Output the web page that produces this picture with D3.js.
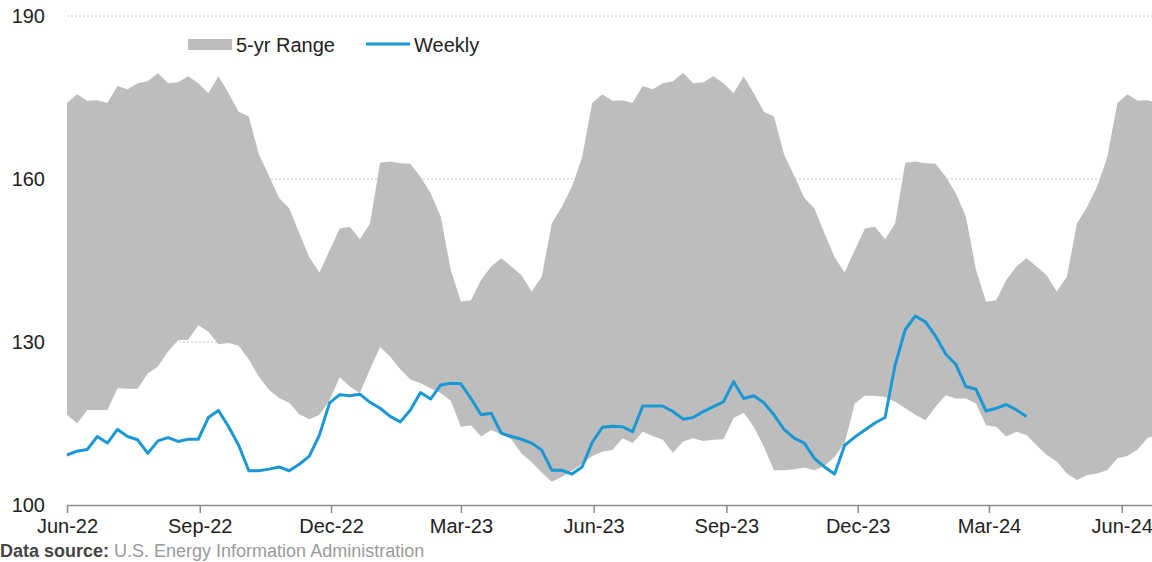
<!DOCTYPE html>
<html>
<head>
<meta charset="utf-8">
<script src="https://cdn.jsdelivr.net/npm/d3@7"></script>
<style>
  body { margin: 0; background: #fff; }
  svg { display: block; font-family: "Liberation Sans", Arial, sans-serif; }
</style>
</head>
<body>
<svg id="chart" width="1152" height="562"></svg>
<script>
// first week in the file (week ending Fri Jun 3 2022), one value per week after that
var startDate = "2022-06-03";

// 5-yr range, upper edge (million barrels)
var rangeHigh = [
  174.0, 175.6, 174.4, 174.5, 174.0, 177.1, 176.5, 177.6, 178.0, 179.5,
  177.6, 177.8, 178.9, 177.6, 175.8, 178.9, 175.8, 172.4, 171.5, 164.5,
  160.6, 156.5, 154.6, 150.0, 145.6, 142.8, 146.9, 150.9, 151.2, 148.9,
  151.8, 163.0, 163.2, 162.9, 162.8, 160.4, 157.4, 153.1, 143.3, 137.4,
  137.7, 141.4, 143.9, 145.4, 143.9, 142.3, 139.3, 142.0, 151.8, 154.9,
  158.6, 164.0,
  174.0, 175.6, 174.4, 174.5, 174.0, 177.1, 176.5, 177.6, 178.0, 179.5,
  177.6, 177.8, 178.9, 177.6, 175.8, 178.9, 175.8, 172.4, 171.5, 164.5,
  160.6, 156.5, 154.6, 150.0, 145.6, 142.8, 146.9, 150.9, 151.2, 148.9,
  151.8, 163.0, 163.2, 162.9, 162.8, 160.4, 157.4, 153.1, 143.3, 137.4,
  137.7, 141.4, 143.9, 145.4, 143.9, 142.3, 139.3, 142.0, 151.8, 154.9,
  158.6, 164.0,
  174.0, 175.6, 174.4, 174.5, 174.0
];

// 5-yr range, lower edge
var rangeLow = [
  116.6, 115.0, 117.5, 117.5, 117.5, 121.5, 121.4, 121.4, 124.2, 125.5,
  128.2, 130.3, 130.4, 133.1, 131.9, 129.6, 129.8, 129.3, 126.8, 123.6,
  121.2, 119.7, 118.8, 116.7, 115.8, 116.6, 119.3, 123.5, 121.8, 120.6,
  125.0, 129.1, 127.3, 125.0, 123.1, 122.4, 121.5, 120.6, 119.2, 114.4,
  114.7, 112.6, 113.8, 113.0, 112.1, 109.5, 107.9, 106.0, 104.3, 105.2,
  106.3, 107.5, 109.0, 109.8, 110.1, 112.3, 111.4, 113.5, 112.7, 112.0,
  109.6, 111.7, 112.3, 111.8, 112.0, 112.1, 116.0, 117.0, 114.4, 110.7,
  106.4, 106.4, 106.6, 106.9, 106.4, 107.2, 108.9, 111.4, 118.7, 120.1,
  120.1, 119.9, 119.0, 117.8, 116.6, 115.6, 118.1, 120.2, 119.6, 119.6,
  118.7, 114.7, 114.4, 112.6, 113.5, 112.9, 111.0, 109.2, 108.0, 105.8,
  104.6, 105.5, 105.8, 106.4, 108.6, 109.0, 110.2, 112.4, 112.8
];

// weekly stocks, Jun 3 2022 .. Mar 29 2024
var weekly = [
  109.2, 109.9, 110.2, 112.6, 111.4, 113.9, 112.6, 112.0, 109.5, 111.8,
  112.4, 111.7, 112.1, 112.1, 116.1, 117.4, 114.4, 111.0, 106.3, 106.3,
  106.6, 107.0, 106.3, 107.5, 109.0, 112.9, 118.8, 120.3, 120.1, 120.4,
  118.9, 117.8, 116.3, 115.3, 117.5, 120.7, 119.5, 122.1, 122.4, 122.3,
  119.6, 116.6, 116.9, 113.2, 112.6, 112.1, 111.4, 110.1, 106.4, 106.4,
  105.7, 107.0, 111.5, 114.3, 114.5, 114.4, 113.5, 118.2, 118.2, 118.2,
  117.2, 115.8, 116.1, 117.2, 118.1, 119.0, 122.7, 119.6, 120.1, 118.8,
  116.6, 113.9, 112.3, 111.4, 108.6, 107.0, 105.7, 111.0, 112.5, 113.8,
  115.1, 116.1, 125.8, 132.3, 134.8, 133.7, 131.1, 127.8, 125.9, 121.8,
  121.3, 117.3, 117.8, 118.5, 117.5, 116.3
];

var xTickDates = ["2022-06-03", "2022-09-03", "2022-12-03", "2023-03-03", "2023-06-03",
                  "2023-09-03", "2023-12-03", "2024-03-03", "2024-06-03"];
var xTickLabels = ["Jun-22", "Sep-22", "Dec-22", "Mar-23", "Jun-23", "Sep-23", "Dec-23", "Mar-24", "Jun-24"];
var yTicks = [100, 130, 160, 190];

function draw() {
  var parse = d3.timeParse("%Y-%m-%d");
  var t0 = parse(startDate);
  function weekDate(i) { return d3.timeDay.offset(t0, 7 * i); }

  // plot area
  var plotLeft = 67, plotRight = 1152, plotTop = 16, plotBottom = 505;
  var bandColor = "#bdbdbd";
  var lineColor = "#1a98d5";

  var svg = d3.select("#chart");

  var x = d3.scaleTime().domain([t0, parse("2024-06-24")]).range([plotLeft, plotRight]);
  var y = d3.scaleLinear().domain([100, 190]).range([plotBottom, plotTop]);

  // gridlines (dotted)
  svg.append("g").selectAll("line")
    .data(yTicks.filter(function(d) { return d > 100; }))
    .enter().append("line")
    .attr("x1", plotLeft).attr("x2", plotRight)
    .attr("y1", function(d) { return y(d); }).attr("y2", function(d) { return y(d); })
    .attr("stroke", "#c4c4c4").attr("stroke-width", 1).attr("stroke-dasharray", "2,2");

  // 5-yr range band
  var band = rangeHigh.map(function(h, i) { return { d: weekDate(i), hi: h, lo: rangeLow[i] }; });
  var area = d3.area()
    .x(function(d) { return x(d.d); })
    .y0(function(d) { return y(d.lo); })
    .y1(function(d) { return y(d.hi); });
  svg.append("clipPath").attr("id", "plotclip")
    .append("rect").attr("x", plotLeft).attr("y", 0)
    .attr("width", plotRight - plotLeft).attr("height", plotBottom);
  svg.append("path").datum(band)
    .attr("clip-path", "url(#plotclip)")
    .attr("fill", bandColor).attr("d", area);

  // weekly line
  var line = d3.line()
    .x(function(d, i) { return x(weekDate(i)); })
    .y(function(d) { return y(d); });
  svg.append("path").datum(weekly)
    .attr("fill", "none").attr("stroke", lineColor).attr("stroke-width", 3)
    .attr("stroke-linejoin", "round").attr("d", line);

  // x axis
  var xAxis = d3.axisBottom(x)
    .tickValues(xTickDates.map(parse))
    .tickFormat(function(d, i) { return xTickLabels[i]; })
    .tickSize(8).tickSizeOuter(0).tickPadding(6);
  var gx = svg.append("g").attr("transform", "translate(0," + plotBottom + ")").call(xAxis);
  gx.select(".domain").attr("stroke", "#8a8a8a").attr("stroke-width", 1.5);
  gx.selectAll(".tick line").attr("stroke", "#8a8a8a").attr("stroke-width", 1.5);
  gx.selectAll("text").attr("font-size", 20).attr("fill", "#222")
    .attr("font-family", "Liberation Sans, Arial, sans-serif");

  // y labels
  svg.append("g").selectAll("text").data(yTicks).enter().append("text")
    .attr("x", 45).attr("y", function(d) { return y(d); }).attr("dy", "0.35em")
    .attr("text-anchor", "end").attr("font-size", 20).attr("fill", "#222")
    .text(function(d) { return d; });

  // legend
  var lg = svg.append("g");
  lg.append("rect").attr("x", 188).attr("y", 39).attr("width", 44).attr("height", 11).attr("fill", bandColor);
  lg.append("text").attr("x", 236).attr("y", 45).attr("dy", "0.35em").attr("font-size", 20)
    .attr("fill", "#222").text("5-yr Range");
  lg.append("line").attr("x1", 366).attr("x2", 410).attr("y1", 44).attr("y2", 44)
    .attr("stroke", lineColor).attr("stroke-width", 3);
  lg.append("text").attr("x", 414).attr("y", 45).attr("dy", "0.35em").attr("font-size", 20)
    .attr("fill", "#222").text("Weekly");

  // source note along the bottom edge
  var src = svg.append("text").attr("x", 0).attr("y", 557).attr("font-size", 18);
  src.append("tspan").attr("font-weight", "bold").attr("fill", "#444").text("Data source:");
  src.append("tspan").attr("fill", "#9a9a9a").text(" U.S. Energy Information Administration");
}
draw();
</script>
</body>
</html>
